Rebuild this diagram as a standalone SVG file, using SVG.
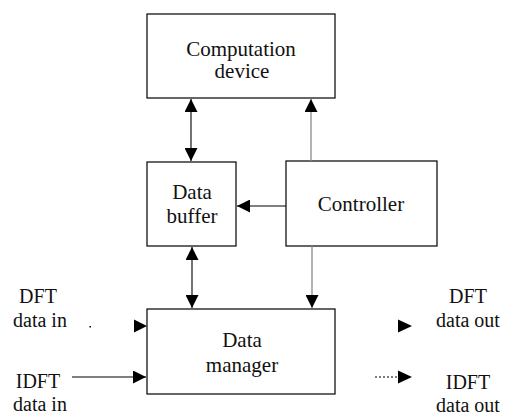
<svg xmlns="http://www.w3.org/2000/svg" width="506" height="417" viewBox="0 0 506 417">
  <style>
    .box { fill: #ffffff; stroke: #000000; stroke-width: 1.2; }
    .lbl { font-family: "Liberation Serif", "Times New Roman", serif; font-size: 21px; fill: #111111; text-anchor: middle; }
    .io { font-size: 20px; }
    .wire { fill: none; stroke: #000000; stroke-width: 1.1; }
    .grey { fill: none; stroke: #8a8a8a; stroke-width: 1.3; }
    .head { fill: #000000; }
  </style>
  <defs>
    <marker id="arrow" viewBox="0 0 13 13" refX="13" refY="6.5" markerWidth="13" markerHeight="13" markerUnits="userSpaceOnUse" orient="auto-start-reverse">
      <path d="M0,0 L13,6.5 L0,13 Z" fill="#000000"/>
    </marker>
  </defs>

  <rect width="506" height="417" fill="#ffffff"/>

  <g id="computation-device">
    <rect class="box" x="147" y="14" width="188" height="84"/>
    <text class="lbl" x="241" y="56">Computation</text>
    <text class="lbl" x="242" y="78">device</text>
  </g>

  <g id="data-buffer">
    <rect class="box" x="147" y="162" width="89" height="84"/>
    <text class="lbl" x="192" y="199">Data</text>
    <text class="lbl" x="192" y="223">buffer</text>
  </g>

  <g id="controller">
    <rect class="box" x="286" y="161" width="151" height="85"/>
    <text class="lbl" x="361" y="211">Controller</text>
  </g>

  <g id="data-manager">
    <rect class="box" x="147" y="309" width="188" height="85"/>
    <text class="lbl" x="242" y="347">Data</text>
    <text class="lbl" x="242" y="372">manager</text>
  </g>

  <g id="io-labels">
    <text class="lbl io" x="38" y="303">DFT</text>
    <text class="lbl io" x="40" y="327">data in</text>
    <text class="lbl io" x="38" y="388">IDFT</text>
    <text class="lbl io" x="40" y="411">data in</text>
    <text class="lbl io" x="468" y="303">DFT</text>
    <text class="lbl io" x="468" y="327">data out</text>
    <text class="lbl io" x="468" y="389">IDFT</text>
    <text class="lbl io" x="468" y="412">data out</text>
  </g>

  <g id="connectors">
    <!-- buffer <-> computation device -->
    <line class="wire" x1="191" y1="99" x2="191" y2="161" marker-start="url(#arrow)" marker-end="url(#arrow)"/>
    <!-- buffer <-> data manager -->
    <line class="wire" x1="192" y1="247" x2="192" y2="308" marker-start="url(#arrow)" marker-end="url(#arrow)"/>
    <!-- controller -> buffer -->
    <line class="wire" x1="286" y1="206" x2="237" y2="206" marker-end="url(#arrow)"/>
    <!-- controller -> computation device -->
    <line class="grey" x1="311" y1="161" x2="311" y2="99" marker-end="url(#arrow)"/>
    <!-- controller -> data manager -->
    <line class="grey" x1="312" y1="246" x2="312" y2="308" marker-end="url(#arrow)"/>
    <!-- DFT data in -->
    <rect x="89.5" y="326" width="1.5" height="1.5" fill="#000000"/>
    <polygon class="head" points="134,319.5 147,326 134,332.5"/>
    <!-- IDFT data in -->
    <line class="wire" x1="72" y1="377" x2="146" y2="377" marker-end="url(#arrow)"/>
    <!-- DFT data out -->
    <polygon class="head" points="398,319.5 412,326 398,332.5"/>
    <!-- IDFT data out -->
    <line class="wire" x1="375" y1="377" x2="399" y2="377" stroke-dasharray="2,2"/>
    <polygon class="head" points="398,370.5 412,377 398,383.5"/>
  </g>
</svg>
